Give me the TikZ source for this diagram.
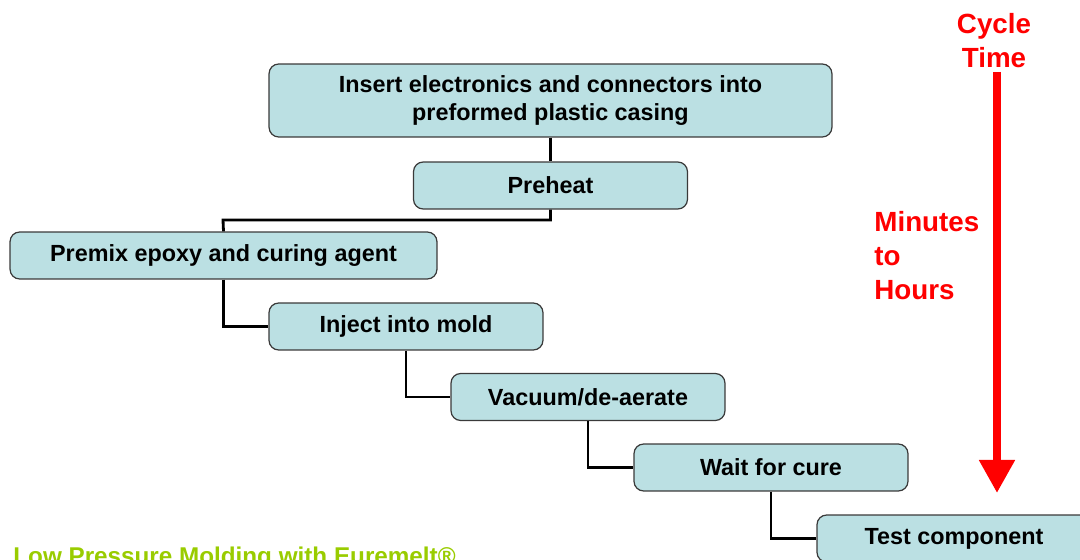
\documentclass[tikz,border=0pt]{standalone}
\usepackage{fontspec}
\setmainfont{Liberation Sans}
\usepackage{tikz}
\usetikzlibrary{arrows.meta,positioning,shapes}

\definecolor{boxfill}{HTML}{BBE0E3}
\definecolor{boxline}{HTML}{3A3A3A}
\definecolor{titlegreen}{HTML}{99CC00}

\begin{document}
\begin{tikzpicture}[x=0.02cm,y=-0.02cm,
            stepbox/.style={draw=boxline,fill=boxfill,rectangle,rounded corners=5.5pt,line width=0.7pt,
              minimum width=5.48cm,minimum height=0.94cm,align=center,
              font=\fontsize{13.3}{15.9}\selectfont\bfseries},
            widebox/.style={stepbox,minimum height=1.46cm},
            redlab/.style={text=red,align=left,inner sep=0pt,font=\fontsize{15.8}{19.3}\selectfont\bfseries},
            every path/.style={line width=1.6pt}
          ]
          \useasboundingbox (0,0) rectangle (1080,560);

          %process steps
          \node[widebox,minimum width=11.26cm] (insert) at (550.5,100.5) {Insert electronics and connectors into\\preformed plastic casing};
          \node[stepbox] (preheat) at (550.5,185.5) {Preheat};
          \node[stepbox,minimum width=8.54cm] (premix) at (223.5,255.5) {Premix epoxy and curing agent};
          \node[stepbox] (inject) at (406,326.5) {Inject into mold};
          \node[stepbox] (vacuum) at (588,397) {Vacuum/de-aerate};
          \node[stepbox] (cure) at (771,467.5) {Wait for cure};
          \node[stepbox] (test) at (954,538.5) {Test component};

          %connectors
          \draw (insert) -- (preheat);
          \draw (preheat.south) |- (223,220) -- (premix.north);
          \draw (premix.south) |- (inject.west);
          \draw (inject.south) |- (vacuum.west);
          \draw (vacuum.south) |- (cure.west);
          \draw (cure.south) |- (test.west);

          %cycle time
          \node[redlab,align=center] (cycle) at (994,41) {Cycle\\Time};
          \coordinate (top) at (997,72);
          \coordinate (bottom) at (997,493);
          \draw[red,line width=4.5pt,-{Triangle[length=33*0.02cm,width=34*0.02cm]}] (top) -- (bottom);
          \node[redlab,anchor=north west] (minutes) at (873,210) {Minutes\\to\\Hours};

          %title
          \node[text=titlegreen,anchor=base west,inner sep=0pt,font=\fontsize{13.8}{16}\selectfont\bfseries] (title) at (12,565) {Low Pressure Molding with Euremelt®};
      \end{tikzpicture}
\end{document}
